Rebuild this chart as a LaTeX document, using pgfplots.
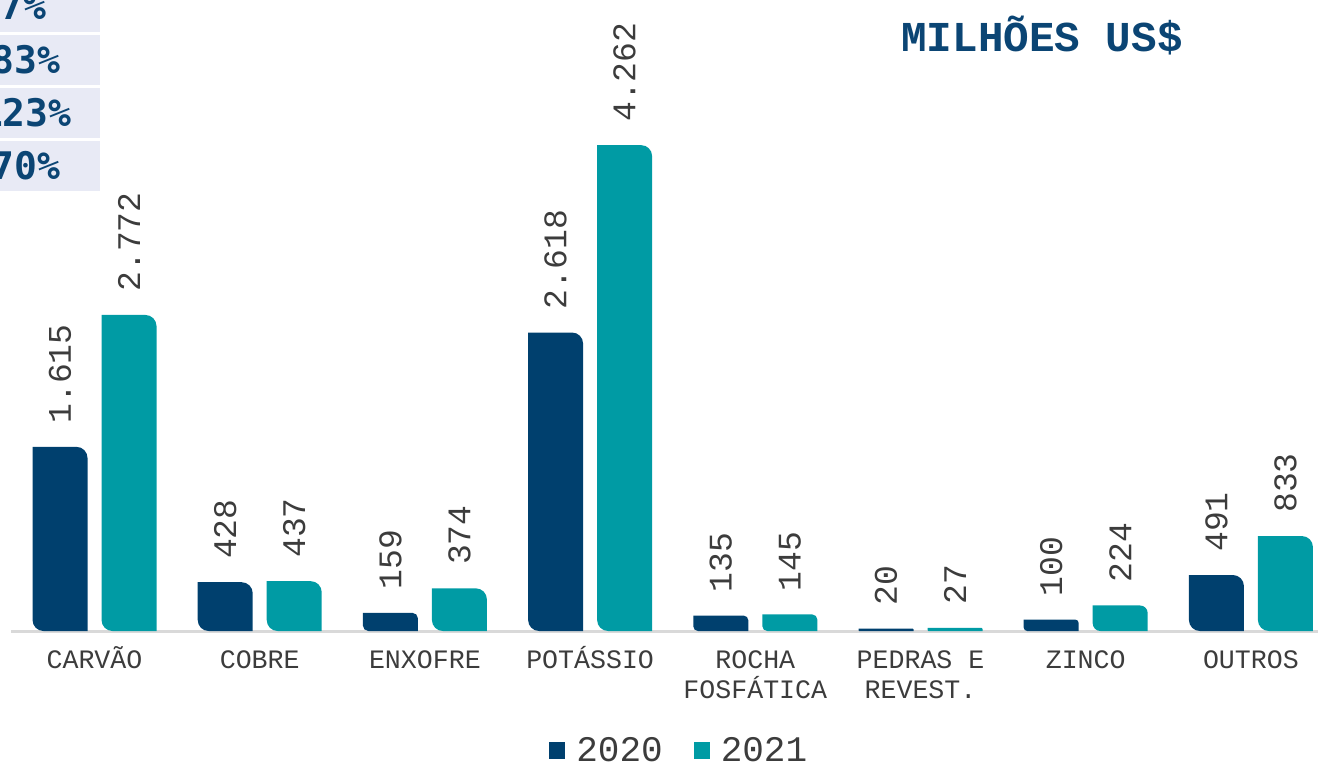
\documentclass[border=0pt]{standalone}
\usepackage{fontspec}
\setmainfont{Liberation Mono}
\newfontfamily\pctfont{DejaVu Sans Mono}
\usepackage{pgfplots}
\usepackage{pgfplotstable}
\pgfplotsset{compat=1.18}
\definecolor{c20}{HTML}{00406E}
\definecolor{c21}{HTML}{009BA4}
\definecolor{txt}{HTML}{3C3C3C}
\definecolor{ttl}{HTML}{0B4574}
\definecolor{boxbg}{HTML}{E8EAF5}
\definecolor{axisgray}{HTML}{D9D9D9}

\makeatletter
\newdimen\rbXa \newdimen\rbYa \newdimen\rbXb \newdimen\rbYb \newdimen\rbT
% rounded bar: top-right and bottom-left corners rounded
\def\roundbar#1#2{%
  \pgf@process{#1}\rbXa=\pgf@x\rbYa=\pgf@y
  \pgf@process{#2}\rbXb=\pgf@x\rbYb=\pgf@y
  \rb@draw
}
\def\roundbarsize#1#2{%
  \pgf@process{#2}\rbXb=\pgf@x\rbYb=\pgf@y
  \pgf@process{#1}\rbXa=\pgf@x\rbYa=\pgf@y
  \advance\rbXb by \rbXa
  \advance\rbYb by \rbYa
  \rb@draw
}
\def\rb@draw{%
  \ifdim\rbXa>\rbXb \rbT=\rbXa\rbXa=\rbXb\rbXb=\rbT\fi
  \ifdim\rbYa>\rbYb \rbT=\rbYa\rbYa=\rbYb\rbYb=\rbT\fi
  \rbT=\rbYb\advance\rbT by -\rbYa
  \rbT=0.3\rbT
  \ifdim\rbT>5.5pt \rbT=5.5pt\fi
  \edef\rb@r{\the\rbT}%
  \edef\rb@xa{\the\rbXa}\edef\rb@ya{\the\rbYa}%
  \edef\rb@xb{\the\rbXb}\edef\rb@yb{\the\rbYb}%
  \pgfpathmoveto{\pgfqpoint{\rb@xa}{\rb@yb}}%
  \pgfpathlineto{\pgfpoint{\rb@xb-\rb@r}{\rb@yb}}%
  \pgfpatharc{90}{0}{\rb@r}%
  \pgfpathlineto{\pgfqpoint{\rb@xb}{\rb@ya}}%
  \pgfpathlineto{\pgfpoint{\rb@xa+\rb@r}{\rb@ya}}%
  \pgfpatharc{270}{180}{\rb@r}%
  \pgfpathclose
}
\makeatother

\pgfplotstableread{
x v20 v21
0 1615 2772
1 428 437
2 159 374
3 2618 4262
4 135 145
5 20 27
6 100 224
7 491 833
}\data

\newcommand\R{\rule{0pt}{13pt}}

\begin{document}
\begin{tikzpicture}
\begin{scope}[/utils/exec={\let\pgfpathrectanglecorners\roundbar\let\pgfpathrectangle\roundbarsize}]
\begin{axis}[
  anchor=origin, at={(47.25pt,-315.5pt)},
  x=82.6pt, y=0.057pt,
  xmin=-0.503, xmax=7.41, ymin=0, ymax=5535,
  clip=false,
  ybar=7pt, bar width=27.5pt,
  axis x line=bottom, axis y line=none,
  x axis line style={-, draw=axisgray, line width=1.5pt},
  xtick={0,...,7},
  xticklabels={\R CARVÃO, \R COBRE, \R ENXOFRE, \R POTÁSSIO, {\R ROCHA\\FOSFÁTICA}, {\R PEDRAS E\\REVEST.}, \R ZINCO, \R OUTROS},
  xticklabel style={align=center, font=\fontsize{13.3}{15}\selectfont, text=txt, anchor=north, inner sep=0pt, yshift=-5.5pt},
  major tick length=0pt,
  nodes near coords={\pgfmathprintnumber[assume math mode=true, fixed, precision=0, 1000 sep={.}]{\pgfplotspointmeta}},
  every node near coord/.append style={font=\fontsize{16.5}{18}\selectfont, text=txt, inner sep=0pt, yshift=11.5pt, rotate=90, anchor=west},
  legend columns=2,
  legend style={draw=none, fill=none, at={(0.4112,-0.19)}, anchor=west, inner sep=0pt,
    font=\fontsize{18}{20}\selectfont, text=txt,
    /tikz/every even column/.append style={column sep=13.5pt}},
  legend image code/.code={\fill[#1] (0pt,-4pt) rectangle (8pt,4.5pt); \path (11.5pt,0pt);},
]
\addplot[fill=c20, draw=none] table[x=x, y=v20] {\data};
\addplot[fill=c21, draw=none] table[x=x, y=v21] {\data};
\legend{2020,2021}
\end{axis}
\end{scope}
\begin{scope}[x=0.5pt, y=-0.5pt]
  \fill[boxbg] (-20,-20) rectangle (100,32);
  \fill[boxbg] (-20,35) rectangle (100,85);
  \fill[boxbg] (-20,88) rectangle (100,138);
  \fill[boxbg] (-20,141) rectangle (100,191);
  \begin{scope}[every node/.style={anchor=base east, inner sep=0pt, text=ttl, font=\pctfont\bfseries\fontsize{19}{20}\selectfont}]
    \node at (47,20) {17\%};
    \node at (61,74) {83\%};
    \node at (72,127) {123\%};
    \node at (61,180) {70\%};
  \end{scope}
  \node[anchor=base west, inner sep=0pt, text=ttl, font=\bfseries\fontsize{21.3}{22}\selectfont] at (901,52) {MILHÕES US\$};
  \pgfresetboundingbox
  \path[use as bounding box] (0,0) rectangle (1318,764);
\end{scope}
\end{tikzpicture}
\end{document}
